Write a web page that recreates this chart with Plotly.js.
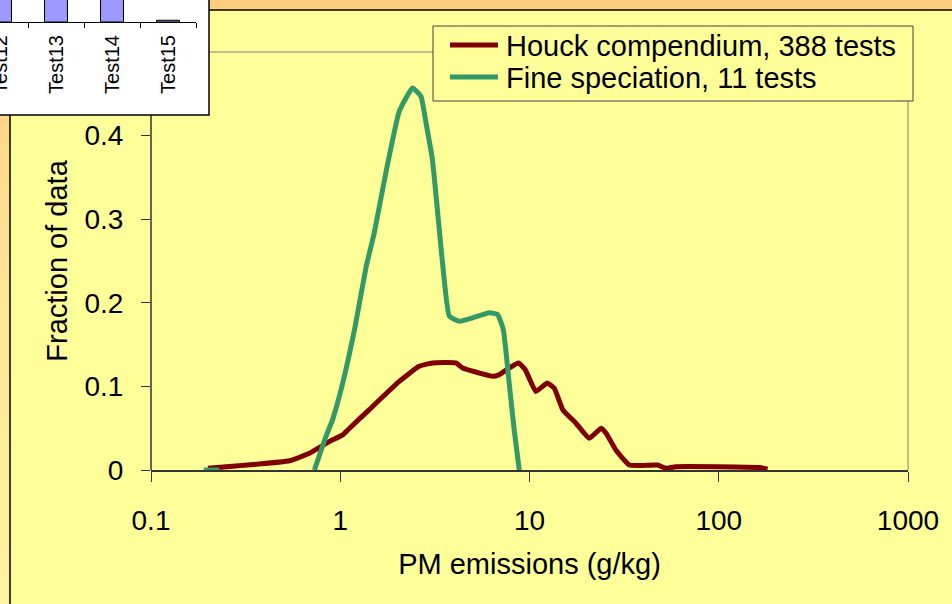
<!DOCTYPE html>
<html>
<head>
<meta charset="utf-8">
<script src="https://cdn.plot.ly/plotly-3.0.1.min.js"></script>
<style>
  html, body { margin: 0; padding: 0; }
  body {
    width: 952px; height: 604px; overflow: hidden;
    background: linear-gradient(to bottom, #FFCC80 0%, #FFE597 50%, #FFF3A2 100%);
  }
  #chart { width: 952px; height: 604px; }
</style>
</head>
<body>
<div id="chart"></div>
<script>
// PM emission factor distributions (fraction of tests per bin, log-scaled g/kg)
const houckPM = [0.2, 0.29, 0.54, 0.686, 0.875, 1.03, 1.12, 1.42, 2.05, 2.61, 3.07, 4.08, 4.43, 5.42,
                 6.38, 6.92, 7.81, 8.75, 9.5, 10.8, 12.4, 13.5, 15.0, 17.6, 20.7, 23.9, 25.4, 28.6,
                 33.7, 47.5, 52.6, 59.4, 164, 181];
const houckFraction = [0.002, 0.005, 0.011, 0.020, 0.034, 0.042, 0.050, 0.072, 0.106, 0.124, 0.128, 0.128,
                       0.122, 0.116, 0.112, 0.114, 0.122, 0.128, 0.120, 0.094, 0.104, 0.098, 0.072, 0.056,
                       0.038, 0.050, 0.044, 0.024, 0.006, 0.006, 0.002, 0.004, 0.003, 0.001];

const finePM = [0.19, 0.23, null, 0.73, 0.84, 0.91, 1.01, 1.19, 1.37, 1.51, 1.74, 2.05, 2.41, 2.67, 2.84,
                3.07, 3.47, 3.77, 4.25, 5.0, 6.13, 6.78, 7.27, 7.81, 8.3, 8.83];
const fineFraction = [0, 0, null, 0, 0.040, 0.060, 0.096, 0.168, 0.243, 0.283, 0.355, 0.429, 0.457, 0.447,
                      0.415, 0.371, 0.248, 0.184, 0.178, 0.182, 0.188, 0.186, 0.168, 0.104, 0.048, 0];

const seriesNames = ['Houck compendium, 388 tests', 'Fine speciation, 11 tests'];
const seriesColors = ['#800000', '#339966'];

const xTickVals = [0.1, 1, 10, 100, 1000];
const xTickText = ['0.1', '1', '10', '100', '1000'];
const yTickVals = [0, 0.1, 0.2, 0.3, 0.4];
const yTickText = ['0', '0.1', '0.2', '0.3', '0.4'];

// Inset bar chart (per-test values, mostly running off the top of the panel)
const insetTests = ['Test12', 'Test13', 'Test14', 'Test15'];
const insetValues = [0.35, 0.32, 0.30, 0.008];

const W = 952, H = 604;
const px = x => x / W;
const py = y => 1 - y / H;
const FONT = 'Liberation Sans, Arial, sans-serif';

function paperLine(x0, y0, x1, y1, color, width) {
  return { type: 'line', xref: 'paper', yref: 'paper', layer: 'below',
           x0: px(x0), y0: py(y0), x1: px(x1), y1: py(y1),
           line: { color: color, width: width } };
}
function paperRect(x0, y0, x1, y1, fill, lineColor, lineWidth) {
  return { type: 'rect', xref: 'paper', yref: 'paper', layer: 'below',
           x0: px(x0), y0: py(y1), x1: px(x1), y1: py(y0),
           fillcolor: fill, line: { color: lineColor, width: lineWidth } };
}

const traces = [
  { x: houckPM, y: houckFraction, name: seriesNames[0], type: 'scatter', mode: 'lines',
    showlegend: false,
    line: { color: seriesColors[0], width: 5, shape: 'spline', smoothing: 0.4 },
    xaxis: 'x', yaxis: 'y' },
  { x: finePM, y: fineFraction, name: seriesNames[1], type: 'scatter', mode: 'lines',
    showlegend: false, connectgaps: false,
    line: { color: seriesColors[1], width: 5, shape: 'spline', smoothing: 0.4 },
    xaxis: 'x', yaxis: 'y' },
  { x: insetTests, y: insetValues, type: 'bar', showlegend: false, width: 0.41,
    marker: { color: '#9999FF', line: { color: '#000000', width: 1 } },
    xaxis: 'x2', yaxis: 'y2', hoverinfo: 'skip' }
];

// Key box: a framed panel with one line swatch and label per series
const legendBox = { x0: 433, y0: 26, x1: 913, y1: 101 };
const legendRowY = [45, 77];
const legendShapes = [paperRect(legendBox.x0, legendBox.y0, legendBox.x1, legendBox.y1, '#FFFF99', '#404040', 1)];
const legendLabels = [];
seriesNames.forEach((name, i) => {
  legendShapes.push(paperLine(450, legendRowY[i], 498, legendRowY[i], seriesColors[i], 5));
  legendLabels.push({
    xref: 'paper', yref: 'paper', x: px(504), y: py(legendRowY[i] + 1),
    xanchor: 'left', yanchor: 'middle', showarrow: false, text: name,
    font: { family: FONT, size: 29, color: '#000000' }
  });
});

const layout = {
  width: W, height: H,
  margin: { l: 0, r: 0, t: 0, b: 0 },
  paper_bgcolor: 'rgba(0,0,0,0)',
  plot_bgcolor: 'rgba(0,0,0,0)',
  font: { family: FONT, color: '#000000' },
  showlegend: false,
  xaxis: {
    domain: [px(151), px(908)], anchor: 'y',
    type: 'log', range: [-1, 3],
    tickvals: xTickVals, ticktext: xTickText,
    ticks: 'outside', ticklen: 10, tickwidth: 1, tickcolor: '#333333',
    showline: true, linecolor: '#333333', linewidth: 1.5,
    showgrid: false, zeroline: false,
    tickfont: { family: FONT, size: 28, color: '#000000' },
    ticklabelstandoff: 15,
    title: { text: 'PM emissions (g/kg)', font: { family: FONT, size: 29, color: '#000000' }, standoff: 18 },
    fixedrange: true
  },
  yaxis: {
    domain: [py(470), py(52)], anchor: 'x',
    range: [0, 0.5],
    tickvals: yTickVals, ticktext: yTickText,
    ticks: 'outside', ticklen: 9, tickwidth: 1, tickcolor: '#333333',
    showline: false, showgrid: false, zeroline: false,
    tickfont: { family: FONT, size: 28, color: '#000000' },
    ticklabelstandoff: 12,
    title: { text: 'Fraction of data', font: { family: FONT, size: 29, color: '#000000' }, standoff: 8 },
    fixedrange: true
  },
  xaxis2: {
    domain: [0, px(196)], anchor: 'y2',
    type: 'category', range: [0, 3.5],
    tickson: 'boundaries', ticks: 'outside', ticklen: 5, tickcolor: '#000000',
    showline: true, linecolor: '#000000', linewidth: 1,
    showgrid: false, tickangle: -90,
    tickfont: { family: FONT, size: 20, color: '#000000' },
    ticklabelstandoff: 4,
    fixedrange: true
  },
  yaxis2: {
    domain: [py(22), 1], anchor: 'x2',
    range: [0, 0.1], visible: false, fixedrange: true
  },
  shapes: [
    // slide panel: yellow area framed in black along top and left
    paperRect(10, 10, 960, 610, '#FFFF99', 'rgba(0,0,0,0)', 0),
    paperLine(10, 10, 960, 10, '#000000', 1.5),
    paperLine(10, 10, 10, 610, '#000000', 1.5),
    // plot-area frame (grey on top and right, axis line on the left)
    paperLine(151, 52, 908, 52, '#808080', 1),
    paperLine(908, 52, 908, 470, '#808080', 1),
    paperLine(151, 52, 151, 470, '#333333', 1.5),
    // white panel holding the inset bar chart
    paperRect(-5, -5, 209, 115, '#FFFFFF', '#000000', 1.5)
  ].concat(legendShapes),
  annotations: legendLabels
};

Plotly.newPlot('chart', traces, layout, { staticPlot: true, displayModeBar: false });
</script>
</body>
</html>
